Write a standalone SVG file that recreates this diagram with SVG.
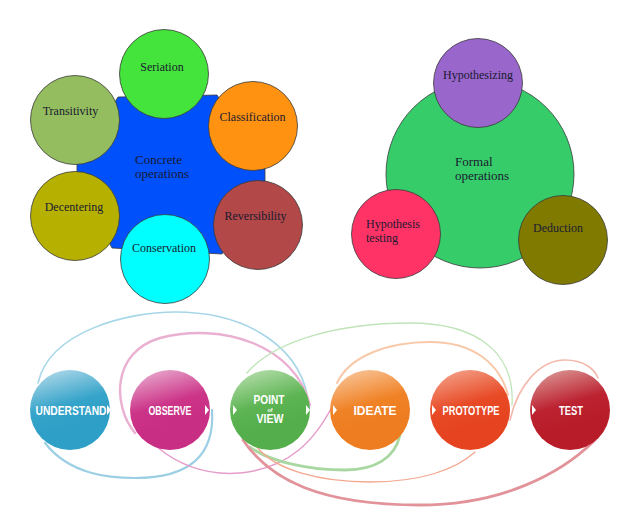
<svg xmlns="http://www.w3.org/2000/svg" width="640" height="532" viewBox="0 0 640 532">
<style>
.n{stroke:#3a3a3a;stroke-width:0.8}
.t{font-family:"Liberation Serif","Times New Roman",serif;font-size:12px;fill:#1a1a30}
.tc{text-anchor:middle}
.big{font-size:13px}
.c{fill:none;stroke-linecap:round}
.w{font-family:"Liberation Sans",Arial,sans-serif;font-weight:bold;fill:#fff;text-anchor:middle}
.tri{fill:#fff}
</style>
<defs>
<linearGradient id="gU" x1="0.35" y1="0" x2="0.55" y2="0.7"><stop offset="0" stop-color="#a6d4e6"/><stop offset="0.6" stop-color="#36a4ca"/><stop offset="1" stop-color="#2e9fc6"/></linearGradient>
<linearGradient id="gO" x1="0.35" y1="0" x2="0.55" y2="0.7"><stop offset="0" stop-color="#e6a0c8"/><stop offset="0.6" stop-color="#cc3488"/><stop offset="1" stop-color="#c82e84"/></linearGradient>
<linearGradient id="gP" x1="0.35" y1="0" x2="0.55" y2="0.7"><stop offset="0" stop-color="#afdaa4"/><stop offset="0.6" stop-color="#5cb452"/><stop offset="1" stop-color="#55ae4c"/></linearGradient>
<linearGradient id="gI" x1="0.35" y1="0" x2="0.55" y2="0.7"><stop offset="0" stop-color="#f8c090"/><stop offset="0.6" stop-color="#f08226"/><stop offset="1" stop-color="#ee7c20"/></linearGradient>
<linearGradient id="gR" x1="0.35" y1="0" x2="0.55" y2="0.7"><stop offset="0" stop-color="#f29a80"/><stop offset="0.6" stop-color="#e84a26"/><stop offset="1" stop-color="#e64420"/></linearGradient>
<linearGradient id="gT" x1="0.35" y1="0" x2="0.55" y2="0.7"><stop offset="0" stop-color="#d88c8c"/><stop offset="0.6" stop-color="#bc2230"/><stop offset="1" stop-color="#b81c28"/></linearGradient>
</defs>
<rect width="640" height="532" fill="#fff"/>

<!-- Concrete operations cluster -->
<g id="concrete">
<polygon class="n" fill="#0050fc" points="118,97 217,95 265,168 265,182 222,254 112,248 77,182 77,164"/>
<text class="t big" x="135" y="164">Concrete</text>
<text class="t big" x="135" y="178">operations</text>
</g>
<g id="seriation"><circle class="n" cx="164" cy="74" r="44.5" fill="#44e43c"/><text class="t tc" x="162" y="71">Seriation</text></g>
<g id="classification"><circle class="n" cx="253" cy="126" r="44.5" fill="#ff9210"/><text class="t tc" x="252.5" y="121">Classification</text></g>
<g id="reversibility"><circle class="n" cx="258" cy="225" r="44.5" fill="#b24848"/><text class="t tc" x="255.5" y="220">Reversibility</text></g>
<g id="conservation"><circle class="n" cx="165" cy="259" r="44.5" fill="#00ffff"/><text class="t tc" x="164" y="252">Conservation</text></g>
<g id="decentering"><circle class="n" cx="75" cy="216" r="44.5" fill="#b6b000"/><text class="t tc" x="74" y="211">Decentering</text></g>
<g id="transitivity"><circle class="n" cx="75" cy="120" r="44.5" fill="#93bd5e"/><text class="t tc" x="70.5" y="115">Transitivity</text></g>

<!-- Formal operations cluster -->
<g id="formal">
<circle class="n" cx="480" cy="174" r="94" fill="#36cc6a"/>
<text class="t big" x="455" y="166">Formal</text>
<text class="t big" x="455" y="180">operations</text>
</g>
<g id="hypothesizing"><circle class="n" cx="478" cy="83" r="44.5" fill="#9966cc"/><text class="t tc" x="478" y="79">Hypothesizing</text></g>
<g id="hypothesis-testing"><circle class="n" cx="396" cy="234" r="44.5" fill="#ff3366"/><text class="t" x="366" y="228">Hypothesis</text><text class="t" x="366" y="242">testing</text></g>
<g id="deduction"><circle class="n" cx="563" cy="240" r="44.5" fill="#807a00"/><text class="t tc" x="558" y="232">Deduction</text></g>

<!-- Design thinking connectors -->
<g id="connectors">
<path class="c" stroke="#a6d6e8" stroke-width="1.6" d="M38,383 C50,330 130,312 175,312 C250,312 305,350 309,408"/>
<path class="c" stroke="#9ccfe4" stroke-width="2.2" d="M45,443 C70,475 110,478 135,478 C190,478 215,455 212,410"/>
<path class="c" stroke="#eab0d2" stroke-width="2.4" d="M135,433 C112,405 112,352 160,338 C222,322 295,345 310,405"/>
<path class="c" stroke="#e69ccb" stroke-width="1.5" d="M157,447 C185,470 215,475 240,473 C290,468 315,440 333,405"/>
<path class="c" stroke="#bfe4b8" stroke-width="1.3" d="M247,373 C275,340 340,323 410,323 C480,323 515,355 512,405"/>
<path class="c" stroke="#a8d8a0" stroke-width="2.8" d="M250,447 C270,462 310,470 345,470 C375,470 395,458 400,435"/>
<path class="c" stroke="#f8c8a8" stroke-width="2" d="M337,383 C350,355 390,342 430,342 C475,342 500,365 508,395"/>
<path class="c" stroke="#f4a890" stroke-width="1.3" d="M257,447 C275,470 320,482 370,482 C420,482 455,470 475,452"/>
<path class="c" stroke="#f4b8ac" stroke-width="1.6" d="M510,420 C518,385 540,360 565,360 C585,360 595,370 598,378"/>
<path class="c" stroke="#e2939a" stroke-width="2.8" d="M243,440 C270,480 320,505 420,505 C500,505 560,475 595,440"/>
</g>

<!-- Design thinking nodes -->
<g id="understand"><circle cx="70" cy="410" r="40" fill="url(#gU)"/><text class="w" x="71" y="414.5" font-size="12.5" textLength="71" lengthAdjust="spacingAndGlyphs">UNDERSTAND</text><polygon class="tri" points="107,405 107,415 111,410"/></g>
<g id="observe"><circle cx="170" cy="410" r="40" fill="url(#gO)"/><text class="w" x="170" y="414.5" font-size="12.5" textLength="43" lengthAdjust="spacingAndGlyphs">OBSERVE</text><polygon class="tri" points="205,405 205,415 209,410"/></g>
<g id="point-of-view"><circle cx="270" cy="410" r="40" fill="url(#gP)"/><text class="w" x="269" y="404" font-size="12" textLength="31" lengthAdjust="spacingAndGlyphs">POINT</text><text class="w" x="270" y="411.5" font-size="5.5">of</text><text class="w" x="270" y="422.5" font-size="12" textLength="27" lengthAdjust="spacingAndGlyphs">VIEW</text><polygon class="tri" points="233,405 233,415 237,410"/><polygon class="tri" points="306,405 306,415 310,410"/></g>
<g id="ideate"><circle cx="370" cy="410" r="40" fill="url(#gI)"/><text class="w" x="375" y="414.5" font-size="12.5" textLength="43" lengthAdjust="spacingAndGlyphs">IDEATE</text><polygon class="tri" points="333,405 333,415 337,410"/></g>
<g id="prototype"><circle cx="470" cy="410" r="40" fill="url(#gR)"/><text class="w" x="471" y="414.5" font-size="12.5" textLength="57" lengthAdjust="spacingAndGlyphs">PROTOTYPE</text><polygon class="tri" points="432,405 432,415 436,410"/></g>
<g id="test"><circle cx="570" cy="410" r="40" fill="url(#gT)"/><text class="w" x="571" y="414.5" font-size="12.5" textLength="24" lengthAdjust="spacingAndGlyphs">TEST</text><polygon class="tri" points="532,405 532,415 536,410"/></g>
</svg>
